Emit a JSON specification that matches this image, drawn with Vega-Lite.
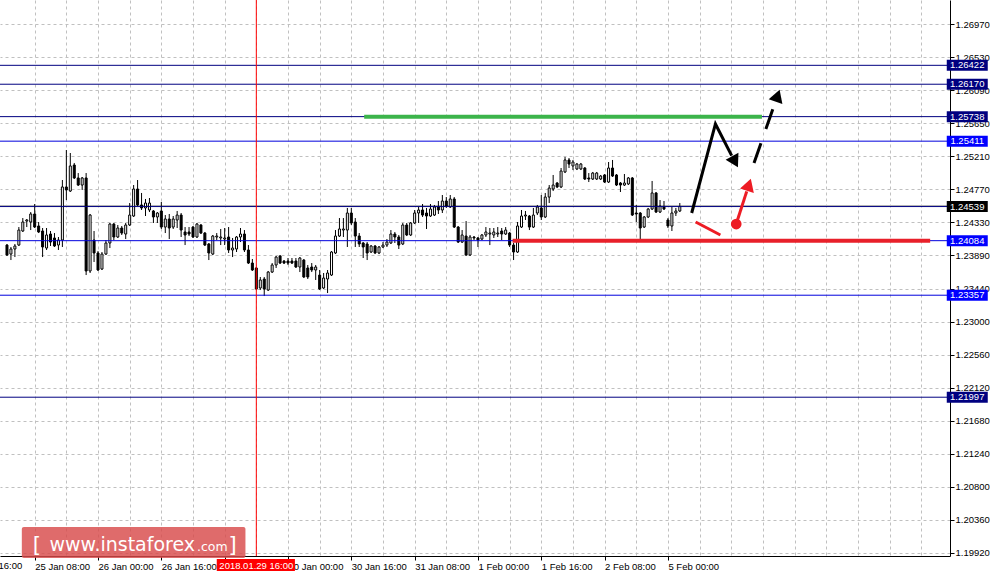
{
"$schema": "https://vega.github.io/schema/vega-lite/v6.json",
"width": 950, "height": 556,
"autosize": {"type": "none"},
"padding": {"left": 0, "top": 0, "right": 46, "bottom": 22},
"background": "white",
"config": {"view": {"stroke": null}, "font": "Liberation Sans"},
"datasets": {
"candles": [
{"i":-7,"o":1.24026,"h":1.2404,"l":1.2388,"c":1.23893},
{"i":-6,"o":1.23906,"h":1.24,"l":1.23826,"c":1.23973},
{"i":-5,"o":1.23973,"h":1.2404,"l":1.23866,"c":1.24013},
{"i":-4,"o":1.24026,"h":1.24266,"l":1.24013,"c":1.24226},
{"i":-3,"o":1.24213,"h":1.24386,"l":1.242,"c":1.24333},
{"i":-2,"o":1.24346,"h":1.24373,"l":1.24266,"c":1.2436},
{"i":-1,"o":1.24333,"h":1.24466,"l":1.24226,"c":1.2444},
{"i":0,"o":1.2444,"h":1.24573,"l":1.24253,"c":1.24266},
{"i":1,"o":1.2428,"h":1.24333,"l":1.24186,"c":1.242},
{"i":2,"o":1.24213,"h":1.24253,"l":1.23866,"c":1.24},
{"i":3,"o":1.23986,"h":1.24253,"l":1.2396,"c":1.2416},
{"i":4,"o":1.24173,"h":1.24213,"l":1.24013,"c":1.24066},
{"i":5,"o":1.2412,"h":1.24186,"l":1.24,"c":1.24013},
{"i":6,"o":1.24026,"h":1.24133,"l":1.2396,"c":1.24093},
{"i":7,"o":1.24093,"h":1.24893,"l":1.24,"c":1.248},
{"i":8,"o":1.248,"h":1.25293,"l":1.24626,"c":1.2476},
{"i":9,"o":1.24746,"h":1.25253,"l":1.24733,"c":1.2508},
{"i":10,"o":1.25093,"h":1.2512,"l":1.24906,"c":1.2492},
{"i":11,"o":1.2492,"h":1.24986,"l":1.24813,"c":1.24826},
{"i":12,"o":1.24826,"h":1.24933,"l":1.2476,"c":1.2492},
{"i":13,"o":1.2492,"h":1.24986,"l":1.23626,"c":1.2368},
{"i":14,"o":1.2368,"h":1.2444,"l":1.23653,"c":1.24426},
{"i":15,"o":1.24093,"h":1.24213,"l":1.238,"c":1.2392},
{"i":16,"o":1.2392,"h":1.23946,"l":1.2368,"c":1.23693},
{"i":17,"o":1.23706,"h":1.23933,"l":1.23693,"c":1.23906},
{"i":18,"o":1.23906,"h":1.24093,"l":1.23893,"c":1.24053},
{"i":19,"o":1.24053,"h":1.2432,"l":1.23986,"c":1.24306},
{"i":20,"o":1.24306,"h":1.2432,"l":1.24093,"c":1.24133},
{"i":21,"o":1.24133,"h":1.24293,"l":1.2412,"c":1.24253},
{"i":22,"o":1.24253,"h":1.2428,"l":1.2416,"c":1.24186},
{"i":23,"o":1.24173,"h":1.2432,"l":1.24106,"c":1.24293},
{"i":24,"o":1.24293,"h":1.24586,"l":1.2428,"c":1.24426},
{"i":25,"o":1.24413,"h":1.24826,"l":1.244,"c":1.24773},
{"i":26,"o":1.24773,"h":1.24893,"l":1.24546,"c":1.2456},
{"i":27,"o":1.2456,"h":1.2472,"l":1.24493,"c":1.2452},
{"i":28,"o":1.2452,"h":1.2464,"l":1.24413,"c":1.24586},
{"i":29,"o":1.24493,"h":1.24653,"l":1.24466,"c":1.24586},
{"i":30,"o":1.2448,"h":1.24493,"l":1.2432,"c":1.244},
{"i":31,"o":1.244,"h":1.24466,"l":1.2432,"c":1.24453},
{"i":32,"o":1.2448,"h":1.246,"l":1.2424,"c":1.24266},
{"i":33,"o":1.24266,"h":1.24426,"l":1.24186,"c":1.24373},
{"i":34,"o":1.24373,"h":1.2444,"l":1.24106,"c":1.24253},
{"i":35,"o":1.24266,"h":1.24413,"l":1.2424,"c":1.24373},
{"i":36,"o":1.2436,"h":1.2448,"l":1.24253,"c":1.24426},
{"i":37,"o":1.24426,"h":1.24453,"l":1.24133,"c":1.24226},
{"i":38,"o":1.242,"h":1.24266,"l":1.24026,"c":1.2416},
{"i":39,"o":1.242,"h":1.24266,"l":1.24146,"c":1.24173},
{"i":40,"o":1.24266,"h":1.2428,"l":1.2412,"c":1.24133},
{"i":41,"o":1.24133,"h":1.2432,"l":1.2412,"c":1.24306},
{"i":42,"o":1.24293,"h":1.24306,"l":1.24173,"c":1.24186},
{"i":43,"o":1.24186,"h":1.242,"l":1.24013,"c":1.24026},
{"i":44,"o":1.2404,"h":1.24053,"l":1.23826,"c":1.2392},
{"i":45,"o":1.23906,"h":1.2416,"l":1.23893,"c":1.24146},
{"i":46,"o":1.24133,"h":1.24186,"l":1.24093,"c":1.24146},
{"i":47,"o":1.2412,"h":1.2424,"l":1.24026,"c":1.24133},
{"i":48,"o":1.24106,"h":1.24253,"l":1.24026,"c":1.2412},
{"i":49,"o":1.24133,"h":1.24266,"l":1.2392,"c":1.2396},
{"i":50,"o":1.2396,"h":1.2412,"l":1.23866,"c":1.23986},
{"i":51,"o":1.23973,"h":1.24146,"l":1.23933,"c":1.24133},
{"i":52,"o":1.24133,"h":1.24253,"l":1.24066,"c":1.24173},
{"i":53,"o":1.24173,"h":1.24226,"l":1.23933,"c":1.2396},
{"i":54,"o":1.2396,"h":1.24026,"l":1.23773,"c":1.23786},
{"i":55,"o":1.23786,"h":1.2384,"l":1.2368,"c":1.23693},
{"i":56,"o":1.2372,"h":1.23733,"l":1.23426,"c":1.2344},
{"i":57,"o":1.23453,"h":1.236,"l":1.23426,"c":1.2356},
{"i":58,"o":1.23573,"h":1.236,"l":1.23346,"c":1.2344},
{"i":59,"o":1.23426,"h":1.2368,"l":1.23413,"c":1.23666},
{"i":60,"o":1.23666,"h":1.23786,"l":1.23653,"c":1.2376},
{"i":61,"o":1.2376,"h":1.2388,"l":1.2372,"c":1.23866},
{"i":62,"o":1.2388,"h":1.23893,"l":1.23773,"c":1.23786},
{"i":63,"o":1.23813,"h":1.23826,"l":1.23773,"c":1.23786},
{"i":64,"o":1.23813,"h":1.23853,"l":1.2376,"c":1.23786},
{"i":65,"o":1.23813,"h":1.23853,"l":1.23773,"c":1.23786},
{"i":66,"o":1.23813,"h":1.23853,"l":1.2372,"c":1.23733},
{"i":67,"o":1.23733,"h":1.23866,"l":1.23666,"c":1.23853},
{"i":68,"o":1.23826,"h":1.2384,"l":1.23586,"c":1.236},
{"i":69,"o":1.2372,"h":1.2376,"l":1.23573,"c":1.236},
{"i":70,"o":1.23733,"h":1.23786,"l":1.23666,"c":1.23693},
{"i":71,"o":1.23693,"h":1.2376,"l":1.2356,"c":1.23733},
{"i":72,"o":1.23626,"h":1.23693,"l":1.23426,"c":1.2344},
{"i":73,"o":1.23453,"h":1.23653,"l":1.2344,"c":1.23586},
{"i":74,"o":1.23573,"h":1.23693,"l":1.23386,"c":1.23653},
{"i":75,"o":1.23626,"h":1.23946,"l":1.23613,"c":1.23933},
{"i":76,"o":1.2392,"h":1.24226,"l":1.23906,"c":1.24146},
{"i":77,"o":1.24146,"h":1.24386,"l":1.24133,"c":1.2424},
{"i":78,"o":1.24226,"h":1.24386,"l":1.24133,"c":1.2424},
{"i":79,"o":1.24226,"h":1.2452,"l":1.24,"c":1.24453},
{"i":80,"o":1.24453,"h":1.2452,"l":1.24293,"c":1.2432},
{"i":81,"o":1.24333,"h":1.24386,"l":1.24,"c":1.24146},
{"i":82,"o":1.24146,"h":1.24186,"l":1.24,"c":1.2404},
{"i":83,"o":1.24053,"h":1.24066,"l":1.23853,"c":1.24},
{"i":84,"o":1.2404,"h":1.24066,"l":1.23826,"c":1.2392},
{"i":85,"o":1.23933,"h":1.24026,"l":1.2392,"c":1.24013},
{"i":86,"o":1.24013,"h":1.24026,"l":1.23906,"c":1.2392},
{"i":87,"o":1.2392,"h":1.24013,"l":1.23906,"c":1.24},
{"i":88,"o":1.24,"h":1.24066,"l":1.23986,"c":1.24026},
{"i":89,"o":1.24026,"h":1.24106,"l":1.24,"c":1.24066},
{"i":90,"o":1.24053,"h":1.24226,"l":1.2404,"c":1.24173},
{"i":91,"o":1.24173,"h":1.242,"l":1.24053,"c":1.24133},
{"i":92,"o":1.24133,"h":1.2416,"l":1.23973,"c":1.24026},
{"i":93,"o":1.2404,"h":1.2432,"l":1.24026,"c":1.24293},
{"i":94,"o":1.24293,"h":1.2432,"l":1.24146,"c":1.2416},
{"i":95,"o":1.2416,"h":1.24333,"l":1.24146,"c":1.2432},
{"i":96,"o":1.2432,"h":1.24493,"l":1.24306,"c":1.24453},
{"i":97,"o":1.24453,"h":1.24533,"l":1.2432,"c":1.24493},
{"i":98,"o":1.24493,"h":1.24573,"l":1.244,"c":1.24426},
{"i":99,"o":1.24453,"h":1.2452,"l":1.2424,"c":1.24413},
{"i":100,"o":1.24413,"h":1.24573,"l":1.244,"c":1.24506},
{"i":101,"o":1.24426,"h":1.2456,"l":1.24413,"c":1.24533},
{"i":102,"o":1.24533,"h":1.24613,"l":1.2444,"c":1.24493},
{"i":103,"o":1.24493,"h":1.24693,"l":1.24453,"c":1.24613},
{"i":104,"o":1.24613,"h":1.24666,"l":1.2452,"c":1.24546},
{"i":105,"o":1.24533,"h":1.24693,"l":1.2452,"c":1.2464},
{"i":106,"o":1.2464,"h":1.24666,"l":1.24253,"c":1.24266},
{"i":107,"o":1.24266,"h":1.2428,"l":1.24053,"c":1.24066},
{"i":108,"o":1.24066,"h":1.24226,"l":1.24053,"c":1.2416},
{"i":109,"o":1.24146,"h":1.24346,"l":1.2388,"c":1.23893},
{"i":110,"o":1.23893,"h":1.2416,"l":1.2388,"c":1.24133},
{"i":111,"o":1.24133,"h":1.24146,"l":1.24093,"c":1.2412},
{"i":112,"o":1.2412,"h":1.24133,"l":1.24,"c":1.24093},
{"i":113,"o":1.24106,"h":1.24173,"l":1.24093,"c":1.2416},
{"i":114,"o":1.2416,"h":1.24266,"l":1.24133,"c":1.242},
{"i":115,"o":1.24173,"h":1.24253,"l":1.24026,"c":1.24186},
{"i":116,"o":1.2416,"h":1.24253,"l":1.2412,"c":1.242},
{"i":117,"o":1.24173,"h":1.24266,"l":1.24133,"c":1.24186},
{"i":118,"o":1.24213,"h":1.24253,"l":1.24093,"c":1.24173},
{"i":119,"o":1.24173,"h":1.24266,"l":1.2416,"c":1.24226},
{"i":120,"o":1.24186,"h":1.242,"l":1.24,"c":1.24026},
{"i":121,"o":1.24026,"h":1.24053,"l":1.23826,"c":1.23933},
{"i":122,"o":1.23933,"h":1.24333,"l":1.2392,"c":1.2428},
{"i":123,"o":1.24266,"h":1.24493,"l":1.24253,"c":1.24413},
{"i":124,"o":1.24413,"h":1.2448,"l":1.2436,"c":1.24426},
{"i":125,"o":1.24413,"h":1.24426,"l":1.24226,"c":1.24266},
{"i":126,"o":1.24266,"h":1.2452,"l":1.24253,"c":1.24426},
{"i":127,"o":1.24453,"h":1.2456,"l":1.24426,"c":1.24533},
{"i":128,"o":1.2452,"h":1.24693,"l":1.2436,"c":1.244},
{"i":129,"o":1.244,"h":1.2472,"l":1.24386,"c":1.24666},
{"i":130,"o":1.24666,"h":1.24826,"l":1.24586,"c":1.24786},
{"i":131,"o":1.24773,"h":1.2496,"l":1.24746,"c":1.24826},
{"i":132,"o":1.24853,"h":1.24866,"l":1.24786,"c":1.248},
{"i":133,"o":1.248,"h":1.25053,"l":1.24786,"c":1.25013},
{"i":134,"o":1.25,"h":1.252,"l":1.24986,"c":1.2516},
{"i":135,"o":1.2516,"h":1.25186,"l":1.25053,"c":1.25106},
{"i":136,"o":1.2508,"h":1.2516,"l":1.25026,"c":1.25133},
{"i":137,"o":1.2504,"h":1.2512,"l":1.25026,"c":1.25106},
{"i":138,"o":1.2504,"h":1.2512,"l":1.25026,"c":1.25106},
{"i":139,"o":1.25053,"h":1.25066,"l":1.24893,"c":1.24906},
{"i":140,"o":1.2492,"h":1.24986,"l":1.24866,"c":1.24906},
{"i":141,"o":1.24906,"h":1.25,"l":1.24893,"c":1.24986},
{"i":142,"o":1.24906,"h":1.25,"l":1.24893,"c":1.24986},
{"i":143,"o":1.24906,"h":1.2496,"l":1.24893,"c":1.24946},
{"i":144,"o":1.2496,"h":1.24973,"l":1.24853,"c":1.24866},
{"i":145,"o":1.24866,"h":1.25133,"l":1.24853,"c":1.25053},
{"i":146,"o":1.25053,"h":1.2516,"l":1.24933,"c":1.24946},
{"i":147,"o":1.2496,"h":1.24973,"l":1.24813,"c":1.24826},
{"i":148,"o":1.24853,"h":1.24866,"l":1.24733,"c":1.24826},
{"i":149,"o":1.24826,"h":1.24973,"l":1.24813,"c":1.24853},
{"i":150,"o":1.2484,"h":1.24933,"l":1.24826,"c":1.2492},
{"i":151,"o":1.2492,"h":1.24933,"l":1.24413,"c":1.24426},
{"i":152,"o":1.24453,"h":1.2456,"l":1.24333,"c":1.2444},
{"i":153,"o":1.24453,"h":1.24466,"l":1.2408,"c":1.24253},
{"i":154,"o":1.24266,"h":1.24413,"l":1.24253,"c":1.244},
{"i":155,"o":1.244,"h":1.2452,"l":1.24386,"c":1.24506},
{"i":156,"o":1.24506,"h":1.2488,"l":1.24493,"c":1.2472},
{"i":157,"o":1.2472,"h":1.24733,"l":1.24453,"c":1.24466},
{"i":158,"o":1.24466,"h":1.24626,"l":1.24453,"c":1.24546},
{"i":159,"o":1.24533,"h":1.24613,"l":1.24493,"c":1.24506},
{"i":160,"o":1.2436,"h":1.24386,"l":1.24253,"c":1.2428},
{"i":161,"o":1.2428,"h":1.24533,"l":1.24213,"c":1.24453},
{"i":162,"o":1.24453,"h":1.2452,"l":1.24413,"c":1.2448},
{"i":163,"o":1.2448,"h":1.24586,"l":1.24466,"c":1.24539}
],
"levels": [
{"p":1.26422,"k":"A"},{"p":1.2617,"k":"A"},{"p":1.25738,"k":"A"},{"p":1.25411,"k":"B"},
{"p":1.24539,"k":"C"},{"p":1.24084,"k":"B"},{"p":1.23357,"k":"B"},{"p":1.21997,"k":"A"}
]
},
"layer": [
{
"data": {"values": [{"p": 1.24553}]},
"mark": {"type": "rule", "color": "#b4b4b4", "strokeWidth": 1},
"encoding": {
"y": {"field": "p", "type": "quantitative", "title": null,
"scale": {"domain": [1.1988, 1.27293], "nice": false, "zero": false},
"axis": {"orient": "right", "values": [1.1992,1.2036,1.208,1.2124,1.2168,1.2212,1.2256,1.23,1.2344,1.2389,1.2433,1.2477,1.2521,1.2565,1.2609,1.2653,1.2697],
"tickCount": 200,
"format": ".5f", "grid": true, "gridColor": "#c0c0c0", "gridDash": [3, 3], "gridWidth": 1,
"domainColor": "#000000", "domainWidth": 1, "tickColor": "#000000", "tickSize": 4, "tickWidth": 1,
"labelPadding": 1, "labelFontSize": 9.5, "labelColor": "#000000", "labelFont": "Liberation Sans",
"labelOverlap": false, "labelFlush": false, "labelBound": false, "labelBaseline": "middle"}}
}
},
{
"data": {"name": "candles"},
"mark": {"type": "rule", "color": "#000000", "strokeWidth": 1},
"encoding": {
"x": {"field": "i", "type": "quantitative", "title": null,
"scale": {"domain": [-7.5, 230], "nice": false, "zero": false},
"axis": {"orient": "bottom", "values": [0,8,16,24,32,40,48,56,64,72,80,88,96,104,112,120,128,136,144,152,160,168,176,184,192,200,208,216,224],
"tickCount": 200,
"labelExpr": "datum.value % 16 == 0 && datum.value >= 0 && datum.value <= 160 ? ['25 Jan 08:00','26 Jan 00:00','26 Jan 16:00','29 Jan 08:00','30 Jan 00:00','30 Jan 16:00','31 Jan 08:00','1 Feb 00:00','1 Feb 16:00','2 Feb 08:00','5 Feb 00:00'][datum.value / 16] : ''",
"grid": true, "gridColor": "#c0c0c0", "gridDash": [3, 3], "gridWidth": 1,
"domainColor": "#000000", "domainWidth": 1, "tickColor": "#000000", "tickSize": 4, "tickWidth": 1,
"tickOpacity": {"condition": {"test": "datum.value % 16 == 0 && datum.value <= 160", "value": 1}, "value": 0},
"labelAlign": "left", "labelBaseline": "top", "labelPadding": 1, "labelFontSize": 9.5, "labelColor": "#000000", "labelFont": "Liberation Sans",
"labelOverlap": false, "labelFlush": false, "labelBound": false}},
"y": {"field": "h", "type": "quantitative", "title": null},
"y2": {"field": "l"}
}
},
{
"data": {"name": "candles"},
"mark": {"type": "bar", "size": 2, "stroke": "#000000", "strokeWidth": 1, "opacity": 1},
"encoding": {
"x": {"field": "i", "type": "quantitative", "title": null},
"y": {"field": "o", "type": "quantitative", "title": null},
"y2": {"field": "c"},
"fill": {"condition": {"test": "datum.c >= datum.o", "value": "#ffffff"}, "value": "#000000"}
}
},
{
"data": {"values": [{"i": -16, "t": "24 Jan 16:00"}]},
"mark": {"type": "text", "color": "#000000", "fontSize": 9.5, "align": "left", "baseline": "top", "dy": 5, "dx": -4, "font": "Liberation Sans"},
"encoding": {
"x": {"field": "i", "type": "quantitative", "title": null},
"y": {"datum": 1.1988, "type": "quantitative"},
"text": {"field": "t"}
}
},
{
"data": {"name": "levels"},
"mark": {"type": "rule", "strokeWidth": 1},
"encoding": {
"y": {"field": "p", "type": "quantitative", "title": null},
"stroke": {"field": "k", "type": "nominal", "legend": null,
"scale": {"domain": ["A", "B", "C"], "range": ["#000080", "#0000dd", "#000080"]}}
}
},
{
"data": {"values": [{"i": 56, "t": "2018.01.29 16:00"}]},
"mark": {"type": "rule", "color": "#ff0000", "strokeWidth": 1},
"encoding": {"x": {"field": "i", "type": "quantitative", "title": null}}
},
{
"data": {"values": [{"a": 83.25, "b": 183.75, "p": 1.25738}]},
"mark": {"type": "rule", "color": "#3cb44b", "strokeWidth": 4},
"encoding": {
"x": {"field": "a", "type": "quantitative", "title": null},
"x2": {"field": "b"},
"y": {"field": "p", "type": "quantitative", "title": null}
}
},
{
"data": {"values": [{"a": 120.75, "b": 226.25, "p": 1.24084}]},
"mark": {"type": "rule", "color": "#e8202a", "strokeWidth": 4},
"encoding": {
"x": {"field": "a", "type": "quantitative", "title": null},
"x2": {"field": "b"},
"y": {"field": "p", "type": "quantitative", "title": null}
}
},
{
"data": {"values": [{"i": 166, "p": 1.24453, "k": 0}, {"i": 172, "p": 1.2564, "k": 1}, {"i": 176.1, "p": 1.25218, "k": 2}]},
"mark": {"type": "line", "color": "#000000", "strokeWidth": 3, "strokeJoin": "miter"},
"encoding": {
"x": {"field": "i", "type": "quantitative", "title": null},
"y": {"field": "p", "type": "quantitative", "title": null},
"order": {"field": "k"}
}
},
{
"data": {"values": [{"i": 181.75, "p": 1.2512, "k": 0}, {"i": 187.1, "p": 1.2593, "k": 1}]},
"mark": {"type": "line", "color": "#000000", "strokeWidth": 3, "strokeDash": [21, 15]},
"encoding": {
"x": {"field": "i", "type": "quantitative", "title": null},
"y": {"field": "p", "type": "quantitative", "title": null},
"order": {"field": "k"}
}
},
{
"data": {"values": [{"g": "a", "i": 167, "p": 1.24333, "k": 0}, {"g": "a", "i": 173.25, "p": 1.2416, "k": 1},
{"g": "b", "i": 177.25, "p": 1.24306, "k": 0}, {"g": "b", "i": 179.9, "p": 1.24742, "k": 1}]},
"mark": {"type": "line", "color": "#ed1c24", "strokeWidth": 3},
"encoding": {
"x": {"field": "i", "type": "quantitative", "title": null},
"y": {"field": "p", "type": "quantitative", "title": null},
"detail": {"field": "g"},
"order": {"field": "k"}
}
},
{
"data": {"values": [{"i": 176.94, "p": 1.25136}]},
"mark": {"type": "point", "shape": "triangle-up", "filled": true, "color": "#000000", "opacity": 1, "size": 210, "angle": 152},
"encoding": {
"x": {"field": "i", "type": "quantitative", "title": null},
"y": {"field": "p", "type": "quantitative", "title": null}
}
},
{
"data": {"values": [{"i": 187.7, "p": 1.26018}]},
"mark": {"type": "point", "shape": "triangle-up", "filled": true, "color": "#000000", "opacity": 1, "size": 210, "angle": 19},
"encoding": {
"x": {"field": "i", "type": "quantitative", "title": null},
"y": {"field": "p", "type": "quantitative", "title": null}
}
},
{
"data": {"values": [{"i": 180.45, "p": 1.2483}]},
"mark": {"type": "point", "shape": "triangle-up", "filled": true, "color": "#ed1c24", "opacity": 1, "size": 210, "angle": 18},
"encoding": {
"x": {"field": "i", "type": "quantitative", "title": null},
"y": {"field": "p", "type": "quantitative", "title": null}
}
},
{
"data": {"values": [{"i": 177.25, "p": 1.24306}]},
"mark": {"type": "point", "shape": "circle", "filled": true, "color": "#ed1c24", "opacity": 1, "size": 115},
"encoding": {
"x": {"field": "i", "type": "quantitative", "title": null},
"y": {"field": "p", "type": "quantitative", "title": null}
}
},
{
"data": {"name": "levels"},
"mark": {"type": "tick", "orient": "horizontal", "size": 41, "thickness": 11, "opacity": 1},
"encoding": {
"x": {"datum": 235.625, "type": "quantitative"},
"y": {"field": "p", "type": "quantitative", "title": null},
"color": {"field": "k", "type": "nominal", "legend": null,
"scale": {"domain": ["A", "B", "C"], "range": ["#000080", "#0000ff", "#000000"]}}
}
},
{
"data": {"name": "levels"},
"mark": {"type": "text", "color": "#ffffff", "fontSize": 9.5, "align": "center", "baseline": "middle", "font": "Liberation Sans"},
"encoding": {
"x": {"datum": 235.625, "type": "quantitative"},
"y": {"field": "p", "type": "quantitative", "title": null},
"text": {"field": "p", "type": "quantitative", "format": ".5f"}
}
},
{
"data": {"values": [{"i": 56, "t": "2018.01.29 16:00"}]},
"layer": [
{"mark": {"type": "rect", "color": "#ff0000", "opacity": 1},
"encoding": {"x": {"datum": 46, "type": "quantitative"}, "x2": {"datum": 65.75},
"y": {"datum": 1.1984, "type": "quantitative"}, "y2": {"datum": 1.1968}}},
{"mark": {"type": "text", "color": "#ffffff", "fontSize": 9.5, "align": "center", "baseline": "alphabetic", "font": "Liberation Sans"},
"encoding": {"x": {"field": "i", "type": "quantitative", "title": null},
"y": {"datum": 1.19708, "type": "quantitative"},
"text": {"field": "t"}}}
]
},
{
"data": {"values": [{"site": "www.instaforex", "dom": ".com"}]},
"layer": [
{"mark": {"type": "rect", "color": "#d84a4a", "opacity": 0.82, "cornerRadius": 2},
"encoding": {"x": {"datum": -3.25, "type": "quantitative"}, "x2": {"datum": 53.25},
"y": {"datum": 1.20266, "type": "quantitative"}, "y2": {"datum": 1.19853}}},
{"mark": {"type": "text", "color": "#ffffff", "fontSize": 19, "align": "left", "baseline": "alphabetic", "font": "DejaVu Sans"},
"encoding": {"x": {"datum": 3.75, "type": "quantitative"}, "y": {"datum": 1.19946, "type": "quantitative"}, "text": {"field": "site"}}},
{"mark": {"type": "text", "color": "#ffffff", "fontSize": 12.5, "align": "left", "baseline": "alphabetic", "font": "DejaVu Sans"},
"encoding": {"x": {"datum": 41, "type": "quantitative"}, "y": {"datum": 1.19946, "type": "quantitative"}, "text": {"field": "dom"}}},
{"mark": {"type": "text", "color": "#ffffff", "fontSize": 21, "align": "left", "baseline": "alphabetic", "font": "DejaVu Sans", "text": "["},
"encoding": {"x": {"datum": -0.5, "type": "quantitative"}, "y": {"datum": 1.19933, "type": "quantitative"}}},
{"mark": {"type": "text", "color": "#ffffff", "fontSize": 21, "align": "left", "baseline": "alphabetic", "font": "DejaVu Sans", "text": "]"},
"encoding": {"x": {"datum": 49, "type": "quantitative"}, "y": {"datum": 1.19933, "type": "quantitative"}}}
]
}
]
}
